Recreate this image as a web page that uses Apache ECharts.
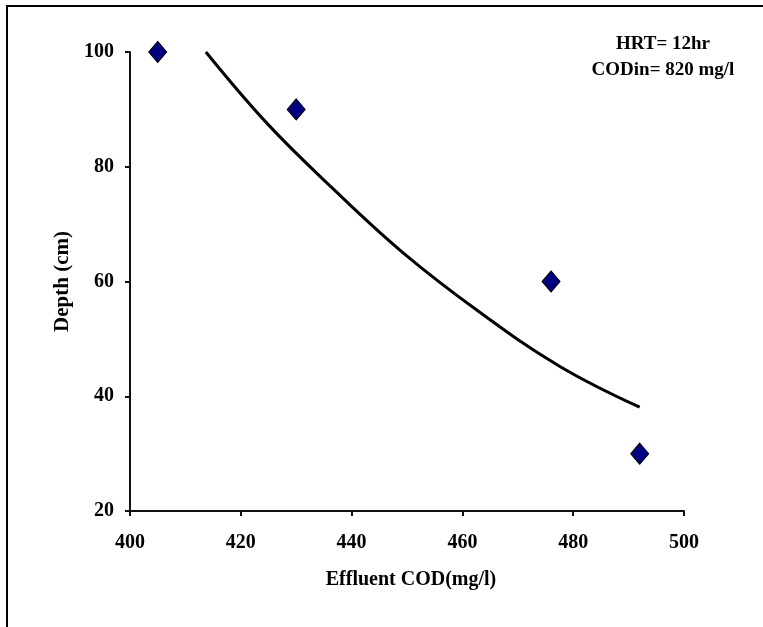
<!DOCTYPE html>
<html>
<head>
<meta charset="utf-8">
<script src="https://cdn.jsdelivr.net/npm/echarts@6/dist/echarts.min.js"></script>
<style>
html,body{margin:0;padding:0;background:#fff;}
#chart{width:763px;height:627px;}
</style>
</head>
<body>
<div id="chart"></div>
<script>
// Measured points
const effluentCOD = [405, 430, 476, 492];
const depth = [100, 90, 60, 30];
// Trend curve
const trendCOD = [413.7, 424.7, 436.4, 449.3, 463.2, 477.6, 492];
const trendDepth = [100, 87.6, 76.4, 65.0, 54.6, 45.2, 38.1];
const xTicks = [400, 420, 440, 460, 480, 500];
const yTicks = [20, 40, 60, 80, 100];
const noteLines = ['HRT= 12hr', 'CODin= 820 mg/l'];

const font = '"Liberation Serif", "Times New Roman", serif';
const chart = echarts.init(document.getElementById('chart'));
chart.setOption({
  animation: false,
  backgroundColor: '#fff',
  grid: {left: 130, right: 79, top: 52, bottom: 116},
  xAxis: {
    type: 'value', min: xTicks[0], max: xTicks[xTicks.length - 1], interval: 20,
    name: 'Effluent COD(mg/l)', nameLocation: 'middle', nameGap: 59,
    nameTextStyle: {fontFamily: font, fontWeight: 'bold', fontSize: 20, color: '#000', padding: [0, 0, 0, 8]},
    axisLine: {show: true, lineStyle: {color: '#111', width: 2}},
    axisTick: {show: true, length: 5, lineStyle: {color: '#111', width: 2}},
    axisLabel: {fontFamily: font, fontWeight: 'bold', fontSize: 20, color: '#000', margin: 22},
    splitLine: {show: false}
  },
  yAxis: {
    type: 'value', min: yTicks[0], max: yTicks[yTicks.length - 1], interval: 20,
    name: 'Depth (cm)', nameLocation: 'middle', nameGap: 51, nameRotate: 90,
    nameTextStyle: {fontFamily: font, fontWeight: 'bold', fontSize: 21, color: '#000'},
    axisLine: {show: true, lineStyle: {color: '#111', width: 2}},
    axisTick: {show: true, length: 5, lineStyle: {color: '#111', width: 2}},
    axisLabel: {fontFamily: font, fontWeight: 'bold', fontSize: 20, color: '#000', margin: 16},
    splitLine: {show: false}
  },
  graphic: [
    {type: 'rect', shape: {x: 7, y: 6, width: 900, height: 800}, style: {fill: 'none', stroke: '#000', lineWidth: 2}, silent: true},
    {type: 'text', x: 663, y: 31, silent: true,
     style: {text: noteLines.join('\n'), fill: '#000', font: 'bold 19px ' + font, textAlign: 'center', textVerticalAlign: 'top', lineHeight: 26}}
  ],
  series: [
    {
      type: 'line', data: trendCOD.map((v, i) => [v, trendDepth[i]]),
      showSymbol: false, smooth: 0.4, lineStyle: {color: '#000', width: 3}, z: 2
    },
    {
      type: 'scatter', data: effluentCOD.map((v, i) => [v, depth[i]]),
      symbol: 'diamond', symbolSize: [18, 21],
      itemStyle: {color: '#000080', opacity: 1, borderColor: '#000', borderWidth: 1}, z: 3
    }
  ]
});
</script>
</body>
</html>
